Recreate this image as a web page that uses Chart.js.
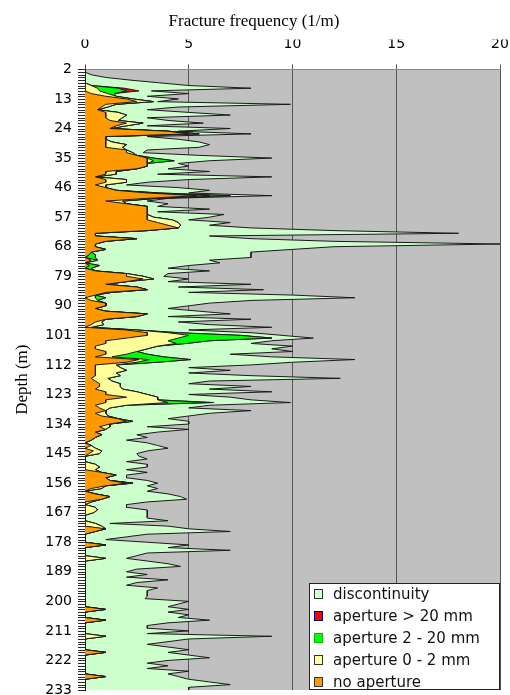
<!DOCTYPE html>
<html>
<head>
<meta charset="utf-8">
<script src="https://cdn.jsdelivr.net/npm/chart.js@4.4.1/dist/chart.umd.min.js"></script>
<style>
    html, body { margin: 0; padding: 0; background: #fff; }
    #wrap { width: 510px; height: 695px; position: relative; }
</style>
</head>
<body>
<div id="wrap"><canvas id="fractureChart"></canvas></div>
<script>
// depth in metres, one row per metre (2 ... 233)
const depths = Array.from({ length: 232 }, (_, i) => i + 2);
const depthTicks = [2, 13, 24, 35, 46, 57, 68, 79, 90, 101, 112, 123, 134, 145, 156, 167, 178, 189, 200, 211, 222, 233];

// fracture frequency (1/m), rows of 11 metres
const noAperture = [
    0, 0, 0, 0, 0, 0, 0, 0, 0, 0.3, 1.0,
    2.0, 2.5, 1.0, 0.8, 0.6, 1.0, 1.0, 1.0, 1.2, 2.0, 1.5,
    1.2, 4.0, 5.0, 1.0, 1.0, 1.0, 1.0, 1.0, 2.0, 2.0, 2.5,
    3.0, 3.0, 3.0, 3.0, 2.5, 1.0, 1.0, 0.5, 1.0, 1.0, 0.5,
    1.0, 1.5, 3.0, 5.4, 3.0, 1.0, 2.0, 3.0, 3.0, 3.0, 3.0,
    3.0, 3.0, 3.5, 4.0, 4.5, 3.0, 0.5, 0.5, 2.5, 1.0, 0.5,
    0.5, 1.0, 0.3, 0.2, 0, 0.3, 0, 0.2, 0, 0.5, 2.0,
    2.0, 2.8, 2.0, 1.0, 2.5, 3.0, 1.0, 0.5, 0, 0.3, 1.0,
    1.0, 0.5, 1.0, 3.0, 2.5, 1.0, 0.5, 0.3, 0, 2.0, 3.0,
    3.0, 2.0, 1.0, 1.0, 0.5, 0.5, 1.0, 1.0, 0.5, 2.6, 2.0,
    0.5, 0.5, 0.5, 0.5, 0.5, 0.3, 0.5, 0.7, 0.7, 0.5, 1.0,
    1.0, 2.0, 1.0, 1.0, 0.5, 0.7, 1.0, 0.5, 0.8, 1.6, 2.0,
    1.2, 0.7, 1.0, 0.5, 0.8, 0.5, 0.3, 0, 0.3, 0, 0.4,
    0.2, 0, 0, 0, 0, 0, 0, 0.8, 1.5, 1.0, 1.2,
    2.0, 1.0, 0.3, 0, 0.5, 1.2, 0.8, 0, 0, 0, 0,
    0, 0, 0, 0, 0, 0, 1.0, 0.5, 0, 0, 0,
    0, 1.0, 0, 0, 0, 0, 0, 0, 0, 0, 0,
    0, 0, 0, 0, 0, 0, 0, 0, 0, 0, 0,
    0, 0, 0, 1.0, 0, 0, 0, 1.0, 0, 0, 0,
    0, 0, 0, 0, 0, 0, 0, 0, 1.0, 0, 0,
    0, 0, 0, 0, 0, 0, 1.0, 0, 0, 0, 0,
    0,
];

const discontinuity = [
    0, 0, 0.3, 1.0, 2.2, 3.6, 4.7, 6.1, 0.6, 3.6, 1.5,
    2.2, 0.2, 8.4, 3.4, 2.4, 3.4, 5.0, 1.2, 2.4, 2.9, 1.0,
    5.8, 0.5, 2.5, 2.0, 3.5, 4.2, 4.0, 3.7, 1.0, 0.5, 3.0,
    5.7, 1.7, 1.5, 2.0, 1.5, 4.5, 2.0, 8.5, 3.0, 1.0, 1.0,
    3.5, 4.5, 1.4, 2.0, 0.5, 1.2, 2.0, 0.5, 3.0, 0.5, 3.7,
    2.7, 0.8, 2.5, 1.4, 3.5, 9.0, 17.5, 5.5, 5.5, 11.0, 19.5,
    11.5, 9.0, 7.7, 7.5, 7.5, 5.4, 6.5, 4.3, 3.7, 5.5, 2.0,
    1.0, 1.7, 2.0, 7.0, 2.0, 5.6, 3.7, 9.5, 12.0, 7.4, 5.0,
    4.0, 3.5, 4.5, 4.0, 1.5, 7.0, 3.7, 5.1, 8.7, 2.5, 3.5,
    2.0, 2.0, 3.0, 3.1, 6.5, 6.0, 7.5, 4.0, 5.2, 7.9, 6.5,
    6.5, 3.3, 5.0, 3.5, 6.3, 11.2, 4.7, 3.3, 6.3, 4.2, 6.5,
    2.0, 3.5, 4.5, 3.7, 4.0, 3.8, 7.0, 5.0, 3.9, 2.4, 2.7,
    3.8, 1.8, 4.0, 3.0, 1.7, 2.5, 1.7, 3.0, 3.2, 3.5, 2.2,
    1.8, 2.6, 3.0, 2.0, 2.5, 2.3, 1.5, 2.2, 0.5, 1.0, 1.8,
    1.2, 2.0, 2.7, 3.0, 3.5, 3.4, 4.1, 2.7, 2.0, 1.5, 2.4,
    2.6, 3.0, 3.0, 4.0, 0.7, 3.2, 4.0, 6.5, 3.0, 2.0, 1.0,
    3.0, 4.0, 4.0, 7.0, 3.0, 2.5, 1.0, 3.0, 4.0, 4.6, 2.5,
    2.0, 3.0, 2.0, 4.0, 2.5, 2.0, 3.5, 3.0, 3.0, 3.0, 2.9,
    5.0, 4.5, 4.0, 4.0, 4.0, 5.0, 4.5, 5.0, 4.0, 3.0, 3.0,
    5.0, 3.0, 8.0, 5.0, 4.0, 3.0, 4.0, 5.0, 3.0, 5.0, 6.0,
    4.0, 3.0, 4.0, 3.0, 5.0, 4.0, 3.5, 5.0, 6.0, 7.0, 5.0,
    5.0,
];

// sparse series: [depth, frequency]
const aperture0to2 = [
    [8, 0.3], [9, 0.6], [10, 0.7], [11, 0.8], [12, 0.5], [13, 0.3], [14, 0.8], [15, 0.5], [16, 0.3],
    [18, 0.6], [19, 1.0], [20, 0.8], [21, 0.4], [22, 0.8], [23, 0.5], [26, 0.5], [29, 0.3], [30, 1.0],
    [31, 0.8], [33, 0.3], [36, 0.3], [40, 0.5], [41, 0.5], [43, 1.0], [44, 1.0], [45, 0.5], [48, 0.3],
    [49, 0.6], [50, 0.5], [51, 0.8], [57, 0.3], [58, 1.2], [59, 1.0], [60, 0.6], [73, 0.3], [79, 0.8],
    [80, 0.5], [85, 0.3], [87, 0.5], [88, 0.3], [96, 0.3], [97, 0.6], [98, 0.3], [99, 0.5], [100, 1.0],
    [101, 2.0], [102, 2.5], [103, 3.0], [104, 3.4], [105, 3.0], [106, 2.5], [107, 1.5], [108, 1.0],
    [109, 0.8], [110, 0.5], [111, 0.5], [112, 1.0], [113, 1.2], [114, 1.5], [115, 1.0], [116, 1.2],
    [117, 0.8], [118, 0.8], [119, 1.0], [120, 1.0], [121, 1.3], [122, 1.5], [123, 2.0], [124, 1.5],
    [125, 2.5], [126, 3.0], [127, 1.5], [128, 0.5], [130, 0.5], [131, 0.3], [133, 0.3], [135, 0.5],
    [143, 0.5], [144, 0.4], [145, 0.5], [149, 0.5], [150, 0.7], [151, 0.5], [156, 0.3], [158, 0.5],
    [163, 0.3], [165, 0.5], [166, 0.6], [167, 0.4], [171, 0.5], [172, 0.8], [184, 1.0], [213, 1.0],
];
const aperture2to20 = [
    [9, 1.0], [10, 1.3], [11, 0.3], [35, 0.3], [36, 1.0], [48, 0.3], [49, 1.0], [71, 0.3], [72, 0.5],
    [75, 0.5], [76, 0.3], [87, 0.5], [100, 0.5], [101, 2.5], [102, 4.5], [103, 2.0], [104, 0.5],
    [108, 1.0], [109, 2.5], [110, 2.0], [111, 1.0], [126, 2.0],
];
const apertureOver20 = [[9, 0.3], [10, 0.6], [126, 0.2]];

function fromPairs(pairs) {
    const out = depths.map(() => 0);
    pairs.forEach(([d, v]) => {
        out[d - depths[0]] = v;
    });
    return out;
}

const tickFont = { family: '"DejaVu Sans", sans-serif', size: 14 };
const serifFont = { family: '"Liberation Serif", "Times New Roman", serif', size: 17, weight: 'normal' };

// stacked from the axis outwards
const series = [
    { label: 'no aperture', data: noAperture, color: '#ff9900', box: '#333333' },
    { label: 'aperture 0 - 2 mm', data: fromPairs(aperture0to2), color: '#ffff99', box: '#333333' },
    { label: 'aperture 2 - 20 mm', data: fromPairs(aperture2to20), color: '#00ff00', box: '#00c000' },
    { label: 'aperture > 20 mm', data: fromPairs(apertureOver20), color: '#ff0000', box: '#000080' },
    { label: 'discontinuity', data: discontinuity, color: '#ccffcc', box: '#333333' },
];

const plotBackground = {
    id: 'plotBackground',
    beforeDraw(chart) {
        const { ctx, chartArea } = chart;
        ctx.save();
        ctx.fillStyle = '#c0c0c0';
        ctx.fillRect(chartArea.left, chartArea.top, chartArea.right - chartArea.left, chartArea.bottom - chartArea.top);
        ctx.restore();
    },
};

// one short mark per metre down the depth axis
const depthMarks = {
    id: 'depthMarks',
    afterDraw(chart) {
        const { ctx, chartArea } = chart;
        const yScale = chart.scales.y;
        ctx.save();
        ctx.strokeStyle = '#2a2a2a';
        ctx.lineWidth = 1;
        ctx.beginPath();
        depths.forEach((d, i) => {
            const py = Math.round(yScale.getPixelForValue(i)) + 0.5;
            ctx.moveTo(chartArea.left - 7, py);
            ctx.lineTo(chartArea.left, py);
        });
        ctx.stroke();
        ctx.restore();
    },
};

// legend sits inside the plot, bottom right, top of stack first
const insideLegend = {
    id: 'insideLegend',
    afterDraw(chart) {
        const { ctx, chartArea } = chart;
        const w = 191;
        const h = 107;
        const x = chartArea.right - w;
        const y = chartArea.bottom - h;
        ctx.save();
        ctx.fillStyle = '#ffffff';
        ctx.fillRect(x, y, w, h);
        ctx.strokeStyle = '#222222';
        ctx.lineWidth = 1;
        ctx.strokeRect(x + 0.5, y + 0.5, w - 1, h - 1);
        ctx.font = '15px "DejaVu Sans", sans-serif';
        ctx.textBaseline = 'middle';
        series.slice().reverse().forEach((s, i) => {
            const cy = y + 11 + i * 22;
            ctx.fillStyle = s.color;
            ctx.fillRect(x + 5, cy - 5, 9, 10);
            ctx.strokeStyle = s.box;
            ctx.strokeRect(x + 5.5, cy - 4.5, 8, 9);
            ctx.fillStyle = '#111111';
            ctx.fillText(s.label, x + 24, cy + 1);
        });
        ctx.restore();
    },
};

new Chart(document.getElementById('fractureChart'), {
    type: 'line',
    data: {
        labels: depths,
        datasets: series.map((s, i) => ({
            label: s.label,
            data: s.data,
            backgroundColor: s.color,
            borderColor: '#1a1a1a',
            borderWidth: 1,
            pointRadius: 0,
            tension: 0,
            fill: i === 0 ? 'origin' : '-1',
        })),
    },
    options: {
        indexAxis: 'y',
        responsive: true,
        maintainAspectRatio: false,
        animation: false,
        layout: { autoPadding: false, padding: { top: 0, left: 8, right: 10, bottom: 5 } },
        plugins: {
            legend: { display: false },
            tooltip: { enabled: false },
            title: {
                display: true,
                text: 'Fracture frequency (1/m)',
                color: '#000',
                font: serifFont,
                padding: { top: 11, bottom: 8 },
            },
        },
        scales: {
            x: {
                type: 'linear',
                position: 'top',
                stacked: true,
                min: 0,
                max: 20,
                ticks: { stepSize: 5, color: '#000', font: tickFont, padding: 12 },
                grid: { color: '#555555', lineWidth: 1, tickLength: 5 },
                border: { color: '#888888' },
                afterFit(scale) {
                    scale.height = 30;
                    scale.paddingLeft = 0;
                    scale.paddingRight = 0;
                },
            },
            y: {
                type: 'category',
                stacked: true,
                offset: false,
                ticks: {
                    autoSkip: false,
                    color: '#000',
                    font: tickFont,
                    padding: 13,
                    callback: (value, index) => (depthTicks.includes(depths[index]) ? String(depths[index]) : ''),
                },
                grid: { drawOnChartArea: false, drawTicks: false },
                border: { color: '#000' },
                title: { display: true, text: 'Depth (m)', color: '#000', font: serifFont, padding: { top: 4, bottom: 0 } },
                afterFit(scale) {
                    scale.width = 77;
                    scale.paddingTop = 0;
                    scale.paddingBottom = 0;
                },
            },
        },
    },
    plugins: [plotBackground, depthMarks, insideLegend],
});
</script>
</body>
</html>
